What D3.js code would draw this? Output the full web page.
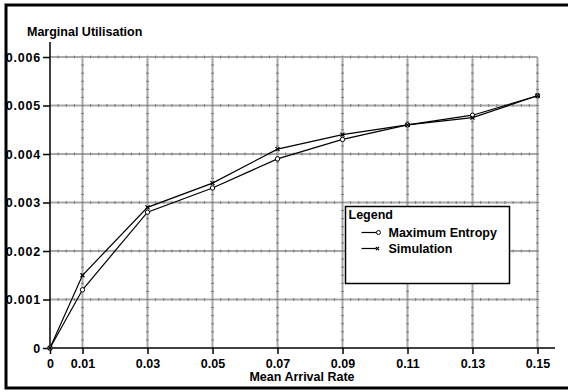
<!DOCTYPE html>
<html>
<head>
<meta charset="utf-8">
<script src="https://cdn.jsdelivr.net/npm/d3@7"></script>
<style>
  body { margin: 0; background: #fff; }
  svg { display: block; font-family: "Liberation Sans", Arial, sans-serif; font-weight: bold; }
</style>
</head>
<body>
<svg id="chart" width="568" height="392"></svg>
<script>
// arrival rates on the x axis
const rates = [0, 0.01, 0.03, 0.05, 0.07, 0.09, 0.11, 0.13, 0.15];
const xTickLabels = ['0', '0.01', '0.03', '0.05', '0.07', '0.09', '0.11', '0.13', '0.15'];
const yTicks = [0, 0.001, 0.002, 0.003, 0.004, 0.005, 0.006];
const yTickLabels = ['0', '0.001', '0.002', '0.003', '0.004', '0.005', '0.006'];

const maxEntropy = [0, 0.0012, 0.0028, 0.0033, 0.0039, 0.0043, 0.0046, 0.0048, 0.0052];
const simulation = [0, 0.0015, 0.0029, 0.0034, 0.0041, 0.0044, 0.0046, 0.00475, 0.0052];

const seriesNames = ['Maximum Entropy', 'Simulation'];

const svg = d3.select('#chart');

const x = d3.scaleLinear().domain([0, 0.15]).range([50, 537.5]);
const y = d3.scaleLinear().domain([0, 0.006]).range([348, 57]);

// outer frame (right side runs off the picture)
svg.append('rect')
    .attr('x', 6).attr('y', 5)
    .attr('width', 570).attr('height', 383)
    .attr('fill', 'none').attr('stroke', '#000').attr('stroke-width', 3);

// grid
const grid = svg.append('g').attr('class', 'grid');
const gridColor = '#a8a8a8';
yTicks.slice(1).forEach(v => {
    grid.append('line')
        .attr('x1', x(0)).attr('x2', x(0.15))
        .attr('y1', y(v)).attr('y2', y(v))
        .attr('stroke', gridColor).attr('stroke-width', 2);
    // little minor marks along the line
    d3.range(0.0025, 0.15, 0.0025).forEach(m => {
        grid.append('line')
            .attr('x1', x(m)).attr('x2', x(m))
            .attr('y1', y(v) - 1.5).attr('y2', y(v) + 1.5)
            .attr('stroke', '#787878').attr('stroke-width', 1);
    });
});
rates.slice(1).forEach(r => {
    grid.append('line')
        .attr('x1', x(r)).attr('x2', x(r))
        .attr('y1', y(0.006)).attr('y2', y(0))
        .attr('stroke', gridColor).attr('stroke-width', 2);
    d3.range(1, 36).map(i => i * 0.001 / 6).forEach(m => {
        grid.append('line')
            .attr('x1', x(r) - 1.5).attr('x2', x(r) + 1.5)
            .attr('y1', y(m)).attr('y2', y(m))
            .attr('stroke', '#787878').attr('stroke-width', 1);
    });
});

// axes
const xAxis = d3.axisBottom(x)
    .tickValues(rates)
    .tickSize(6)
    .tickPadding(5)
    .tickFormat((d, i) => xTickLabels[i]);
const gx = svg.append('g').attr('transform', `translate(0,${y(0)})`).call(xAxis);
gx.select('.domain').remove();
gx.selectAll('line').attr('stroke', '#000').attr('stroke-width', 1.5);
gx.selectAll('text').attr('font-size', 12.5).attr('font-weight', 'bold').attr('fill', '#000')
    .attr('font-family', '"Liberation Sans", Arial, sans-serif');

const yAxis = d3.axisLeft(y)
    .tickValues(yTicks)
    .tickSize(7)
    .tickPadding(2)
    .tickFormat((d, i) => yTickLabels[i]);
const gy = svg.append('g').attr('transform', `translate(${x(0)},0)`).call(yAxis);
gy.select('.domain').remove();
gy.selectAll('line').attr('stroke', '#000').attr('stroke-width', 1.5);
gy.selectAll('text').attr('font-size', 12.5).attr('font-weight', 'bold').attr('fill', '#000')
    .attr('letter-spacing', 0.8)
    .attr('font-family', '"Liberation Sans", Arial, sans-serif');

svg.append('line')
    .attr('x1', x(0)).attr('x2', 555)
    .attr('y1', y(0)).attr('y2', y(0))
    .attr('stroke', '#000').attr('stroke-width', 1.5);
svg.append('line')
    .attr('x1', x(0)).attr('x2', x(0))
    .attr('y1', 42).attr('y2', y(0))
    .attr('stroke', '#000').attr('stroke-width', 1.5);

// titles
svg.append('text')
    .attr('x', 27).attr('y', 36)
    .attr('font-size', 12.5)
    .text('Marginal Utilisation');
svg.append('text')
    .attr('x', 302).attr('y', 381)
    .attr('text-anchor', 'middle')
    .attr('font-size', 12.5)
    .text('Mean Arrival Rate');

// lines
const line = d3.line().x((d, i) => x(rates[i])).y(d => y(d));
[maxEntropy, simulation].forEach(s => {
    svg.append('path')
        .datum(s)
        .attr('d', line)
        .attr('fill', 'none')
        .attr('stroke', '#000')
        .attr('stroke-width', 1.2);
});

const crossPath = (cx, cy, r) => `M${cx - r},${cy - r}L${cx + r},${cy + r}M${cx - r},${cy + r}L${cx + r},${cy - r}`;

svg.append('g').selectAll('circle')
    .data(maxEntropy)
    .join('circle')
    .attr('cx', (d, i) => x(rates[i]))
    .attr('cy', d => y(d))
    .attr('r', 2.2)
    .attr('fill', '#fff')
    .attr('stroke', '#000')
    .attr('stroke-width', 1);

svg.append('g').selectAll('path')
    .data(simulation)
    .join('path')
    .attr('d', (d, i) => crossPath(x(rates[i]), y(d), 2))
    .attr('stroke', '#000')
    .attr('stroke-width', 1.3);

// legend
const legend = svg.append('g').attr('transform', 'translate(345.5,206.5)');
legend.append('rect')
    .attr('width', 164).attr('height', 77)
    .attr('fill', '#fff').attr('stroke', '#000').attr('stroke-width', 1.5);
legend.append('text').attr('x', 3).attr('y', 12).attr('font-size', 12.5).text('Legend');
seriesNames.forEach((name, i) => {
    const ly = 26 + i * 16;
    legend.append('line')
        .attr('x1', 16).attr('x2', 31)
        .attr('y1', ly).attr('y2', ly)
        .attr('stroke', '#000').attr('stroke-width', 1.2);
    if (i === 0) {
        legend.append('circle').attr('cx', 33).attr('cy', ly).attr('r', 2)
            .attr('fill', '#fff').attr('stroke', '#000');
    } else {
        legend.append('path').attr('d', crossPath(32, ly, 1.6))
            .attr('stroke', '#000').attr('stroke-width', 1.2);
    }
    legend.append('text')
        .attr('x', 43).attr('y', ly + 4)
        .attr('font-size', 12.5)
        .text(name);
});
</script>
</body>
</html>
